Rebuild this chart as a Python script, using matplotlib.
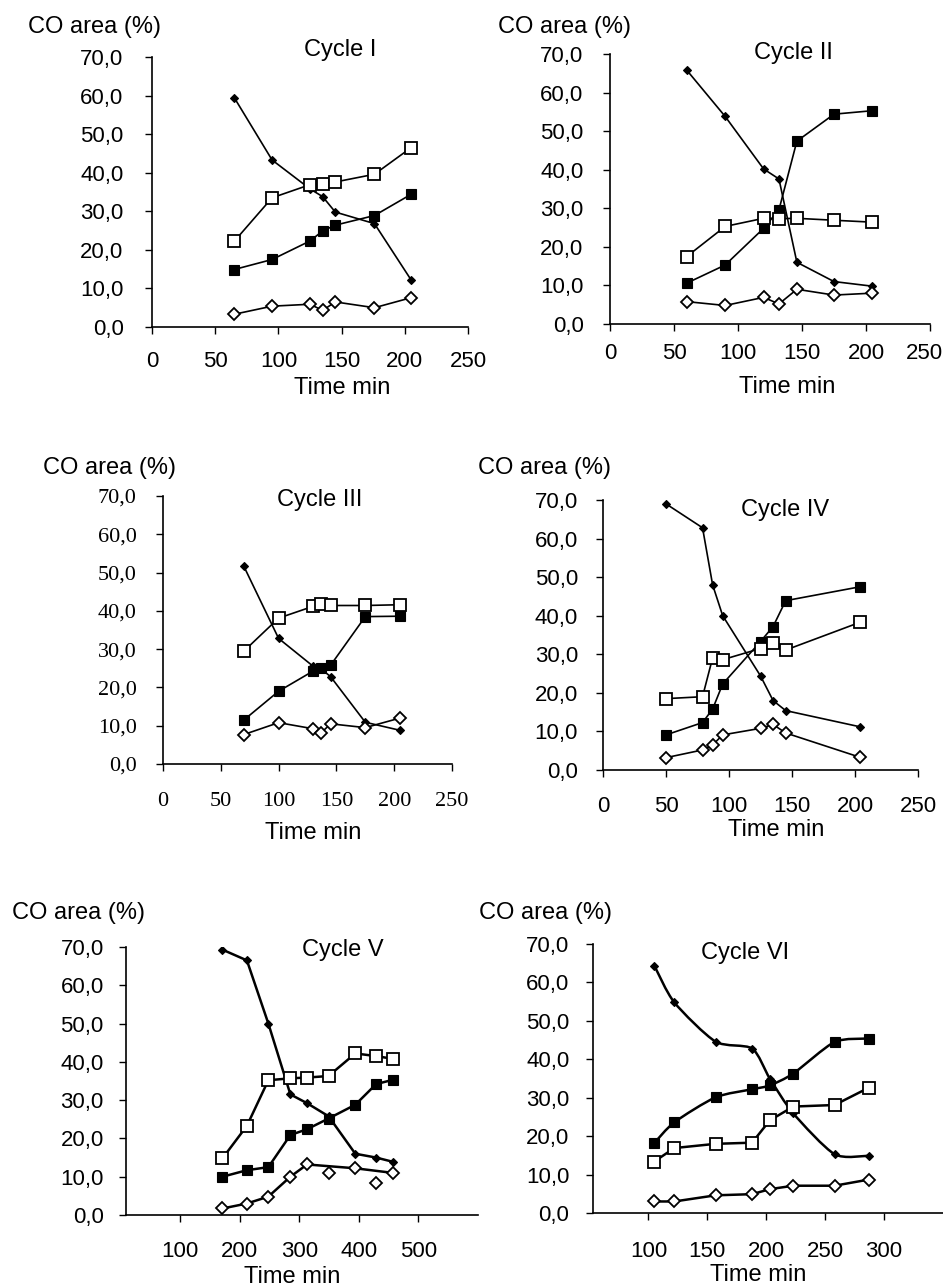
"""Six-panel CO area (%) vs time, cycles I-VI."""

import matplotlib

matplotlib.use("Agg")
import matplotlib.pyplot as plt
from matplotlib.path import Path
from matplotlib.patches import PathPatch
from matplotlib.ticker import FuncFormatter
from matplotlib.transforms import ScaledTranslation

W, H, DPI = 943, 1287, 100

# --------------------------------------------------------------------------- #
# Data
# A = filled diamond, B = filled square, C = open square, D = open diamond
# --------------------------------------------------------------------------- #
t1 = [65, 95, 125, 135, 145, 176, 205]
a1 = [59.5, 43.3, 35.8, 33.8, 29.8, 26.8, 12.2]
b1 = [14.9, 17.5, 22.3, 24.9, 26.4, 28.9, 34.4]
c1 = [22.2, 33.5, 36.9, 37.2, 37.6, 39.6, 46.5]
d1 = [3.3, 5.4, 5.9, 4.3, 6.5, 5.0, 7.6]

t2 = [60, 90, 120, 132, 146, 175, 205]
a2 = [65.8, 53.8, 40.2, 37.6, 16.0, 11.0, 9.8]
b2 = [10.6, 15.3, 24.8, 29.6, 47.4, 54.4, 55.3]
c2 = [17.5, 25.3, 27.4, 27.3, 27.4, 26.9, 26.4]
d2 = [5.8, 4.8, 6.9, 5.2, 9.0, 7.5, 8.0]

t3 = [70, 100, 130, 137, 145, 175, 205]
a3 = [51.6, 32.8, 25.5, 24.8, 22.8, 10.9, 8.8]
b3 = [11.5, 19.0, 24.3, 25.0, 25.8, 38.5, 38.6]
c3 = [29.5, 38.1, 41.2, 41.7, 41.4, 41.4, 41.6]
d3 = [7.7, 10.8, 9.2, 8.2, 10.5, 9.5, 12.0]

t4 = [50, 79, 87, 95, 125, 135, 145, 204]
a4 = [69.0, 62.8, 48.0, 40.0, 24.4, 18.0, 15.4, 11.2]
b4 = [9.1, 12.3, 15.8, 22.3, 33.3, 37.2, 43.9, 47.5]
c4 = [18.5, 19.0, 29.1, 28.6, 31.5, 32.8, 31.1, 38.3]
d4 = [3.2, 5.2, 6.5, 9.1, 10.8, 11.8, 9.6, 3.3]

t5 = [171, 212, 248, 285, 313, 349, 394, 429, 457]
a5 = [69.3, 66.5, 50.0, 31.5, 29.2, 25.8, 16.0, 15.0, 13.9]
b5 = [10.0, 11.7, 12.5, 20.9, 22.4, 25.2, 28.8, 34.2, 35.3]
c5 = [14.8, 23.3, 35.2, 35.7, 35.9, 36.3, 42.2, 41.5, 40.8]
d5 = [1.7, 3.0, 4.8, 10.0, 13.2, 11.0, 12.2, 8.3, 11.0]
d5_off_line = [5, 7]  # points the trend line skips

t6 = [105, 122, 157, 188, 203, 223, 258, 287]
a6 = [64.4, 54.8, 44.6, 42.8, 35.0, 25.9, 15.3, 14.9]
b6 = [18.2, 23.6, 30.1, 32.2, 33.2, 36.3, 44.5, 45.4]
c6 = [13.4, 16.9, 18.0, 18.3, 24.1, 27.7, 28.1, 32.6]
d6 = [3.0, 3.0, 4.6, 4.9, 6.2, 7.1, 7.1, 8.7]

titles = ["Cycle I", "Cycle II", "Cycle III", "Cycle IV", "Cycle V", "Cycle VI"]
xticks_small = [0, 50, 100, 150, 200, 250]
xticks_v = [100, 200, 300, 400, 500]
xticks_vi = [100, 150, 200, 250, 300]
yticks = [0, 10, 20, 30, 40, 50, 60, 70]

SANS = "Liberation Sans"
SERIF = "Liberation Serif"

# marker styles per series
STYLE = {
    "A": dict(marker="D", ms=4.5, mfc="black", mec="black", mew=0.8),
    "B": dict(marker="s", ms=7.2, mfc="black", mec="black", mew=0.8),
    "C": dict(marker="s", ms=8.7, mfc="white", mec="black", mew=1.3),
    "D": dict(marker="D", ms=6.0, mfc="white", mec="black", mew=1.3),
}


def px_box(left, right, top, bottom):
    return [left / W, 1 - bottom / H, (right - left) / W, (bottom - top) / H]


def ftext(x, y, s, **kw):
    fig.text(x / W, 1 - y / H, s, **kw)


def smooth_line(ax, x, y, lw, z, k=8):
    # Catmull-Rom-like curve through the points, as cubic Bezier segments
    n = len(x)
    verts = [(x[0], y[0])]
    codes = [Path.MOVETO]
    for i in range(n - 1):
        xp, yp = (x[i - 1], y[i - 1]) if i > 0 else (x[i], y[i])
        xn, yn = (x[i + 2], y[i + 2]) if i + 2 < n else (x[i + 1], y[i + 1])
        k1 = (x[i] + (x[i + 1] - xp) / k, y[i] + (y[i + 1] - yp) / k)
        k2 = (x[i + 1] - (xn - x[i]) / k, y[i + 1] - (yn - y[i]) / k)
        verts += [k1, k2, (x[i + 1], y[i + 1])]
        codes += [Path.CURVE4] * 3
    ax.add_patch(PathPatch(Path(verts, codes), fill=False, lw=lw, ec="black", zorder=z))


def draw_series(ax, x, y, key, lw, z, smooth=False, skip=()):
    if smooth:
        smooth_line(ax, x, y, lw, z)
    else:
        lx = [v for i, v in enumerate(x) if i not in skip]
        ly = [v for i, v in enumerate(y) if i not in skip]
        ax.plot(lx, ly, color="black", lw=lw, zorder=z)
    ax.plot(x, y, ls="none", zorder=z + 0.5, **STYLE[key])


def setup_axes(ax, xlim, xticks, font, xpad, ypad):
    ax.set_xlim(*xlim)
    ax.set_ylim(0, 70)
    ax.set_xticks(xticks)
    ax.set_yticks(yticks)
    ax.yaxis.set_major_formatter(FuncFormatter(lambda v, _: f"{v:.1f}".replace(".", ",")))
    for s in ("top", "right"):
        ax.spines[s].set_visible(False)
    for s in ("left", "bottom"):
        ax.spines[s].set_linewidth(1.2)
    ax.tick_params(axis="x", direction="out", length=5, width=1, pad=xpad, labelsize=16)
    ax.tick_params(axis="y", direction="out", length=5, width=1, pad=ypad, labelsize=16)
    for lab in ax.get_xticklabels() + ax.get_yticklabels():
        lab.set_fontfamily(font)
    ax.patch.set_alpha(0)


plt.rcParams["font.family"] = [SANS, "DejaVu Sans"]
fig = plt.figure(figsize=(W / DPI, H / DPI), dpi=DPI)

# --------------------------------------------------------------------------- #
# Panels: box (px), x range, ticks, fonts, label pads, text positions
# --------------------------------------------------------------------------- #
panels = [
    dict(box=(152, 468, 57, 327), xlim=(0, 250), xt=xticks_small, font=SANS, xpad=12.5, ypad=15.5,
         data=(t1, a1, b1, c1, d1), lw=1.2, ylab=(28, 27), title=(340, 50), xlab=(342, 388)),
    dict(box=(610, 930, 54, 324), xlim=(0, 250), xt=xticks_small, font=SANS, xpad=8.5, ypad=14,
         data=(t2, a2, b2, c2, d2), lw=1.2, ylab=(498, 27), title=(793, 53), xlab=(787, 387)),
    dict(box=(163, 452, 496, 764), xlim=(0, 250), xt=xticks_small, font=SERIF, xpad=15, ypad=14,
         data=(t3, a3, b3, c3, d3), lw=1.2, ylab=(43, 468), title=(320, 500), xlab=(313, 833)),
    dict(box=(603, 918, 500, 770), xlim=(0, 250), xt=xticks_small, font=SANS, xpad=14, ypad=13,
         data=(t4, a4, b4, c4, d4), lw=1.2, ylab=(478, 468), title=(785, 510), xlab=(776, 830)),
    dict(box=(126, 478, 947, 1215), xlim=(9, 600), xt=xticks_v, font=SANS, xpad=14, ypad=11,
         data=(t5, a5, b5, c5, d5), lw=1.8, ylab=(12, 913), title=(343, 950), xlab=(292, 1277)),
    dict(box=(593, 943, 944, 1213), xlim=(53, 350), xt=xticks_vi, font=SANS, xpad=15.5, ypad=12,
         data=(t6, a6, b6, c6, d6), lw=1.8, ylab=(479, 913), title=(745, 953), xlab=(758, 1275)),
]

for k, p in enumerate(panels):
    ax = fig.add_axes(px_box(*p["box"]))
    setup_axes(ax, p["xlim"], p["xt"], p["font"], p["xpad"], p["ypad"])
    t, a, b, c, d = p["data"]
    draw_series(ax, t, a, "A", p["lw"], 2, smooth=(k == 5))
    draw_series(ax, t, b, "B", p["lw"], 3, smooth=(k == 5))
    draw_series(ax, t, c, "C", p["lw"], 4)
    draw_series(ax, t, d, "D", p["lw"], 5, skip=d5_off_line if k == 4 else ())
    for sp in ax.spines.values():
        sp.set_zorder(6)

    if k == 1:
        # last tick label sits at the page edge; nudge it inward a little
        last = ax.get_xticklabels()[-1]
        last.set_transform(last.get_transform() + ScaledTranslation(-6 / DPI, 0, fig.dpi_scale_trans))

    ftext(*p["ylab"], "CO area (%)", fontsize=17, ha="left", va="center")
    ftext(*p["title"], titles[k], fontsize=17, ha="center", va="center")
    ftext(*p["xlab"], "Time min", fontsize=17, ha="center", va="center")

fig.savefig("out.png", dpi=DPI)
